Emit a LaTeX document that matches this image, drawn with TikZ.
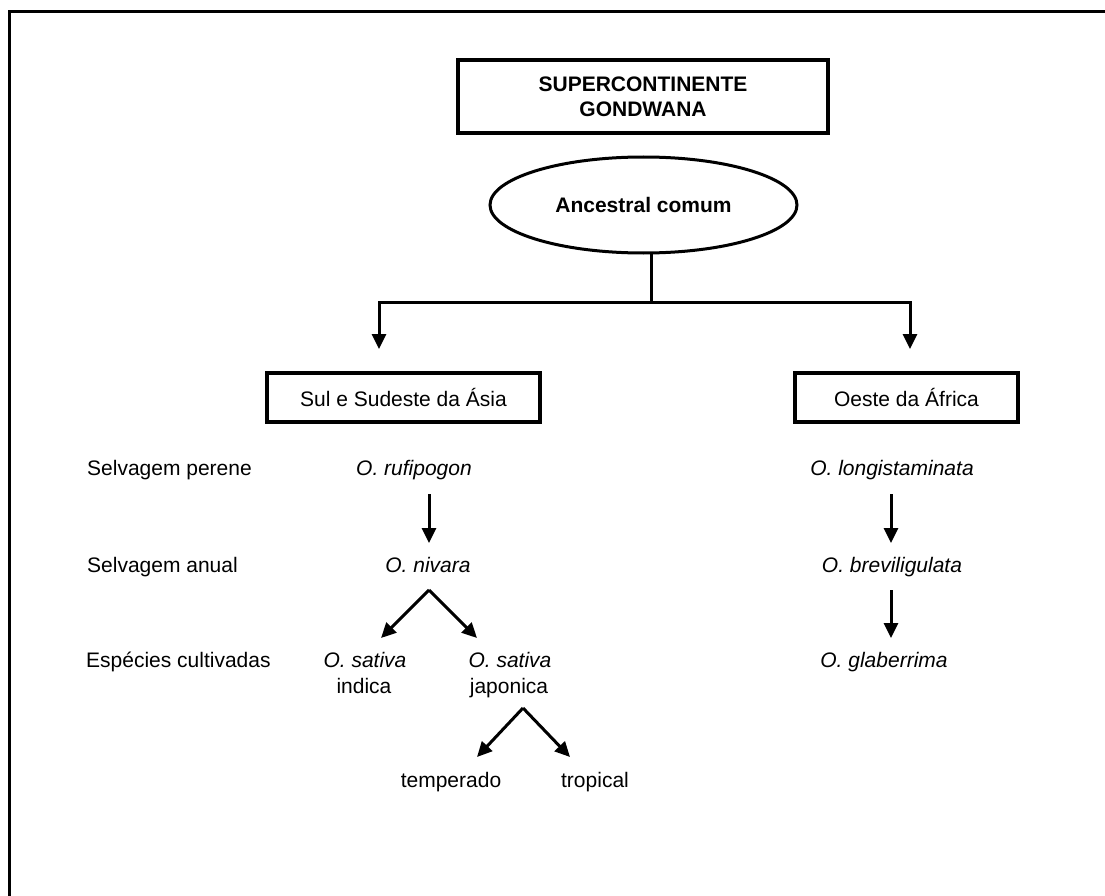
\documentclass[tikz,border=0pt]{standalone}
\usepackage{fontspec}
\setmainfont{Liberation Sans}
\usetikzlibrary{arrows.meta,shapes.geometric}
\begin{document}
\begin{tikzpicture}[x=1pt,y=-1pt,
  txt/.style={font=\fontsize{21}{25}\selectfont, inner sep=0pt},
  itx/.style={font=\fontsize{21}{25}\selectfont\itshape, inner sep=0pt},
  boxed/.style={draw, line width=3.5pt, inner sep=0pt, font=\fontsize{21}{25}\selectfont},
  line/.style={line width=3pt},
  arr/.style={line width=3pt, -{Triangle[length=15pt,width=14pt]}}]
\useasboundingbox (0,0) rectangle (1105,896);
% frame
\coordinate (fb) at (9,896);
\coordinate (fc) at (9,12);
\coordinate (fr) at (1105,12);
\draw[line] (fb) -- (fc) -- (fr);
% title
\node[boxed, align=center, font=\fontsize{21}{25}\selectfont\bfseries, minimum width=370pt, minimum height=73pt] (sg) at (643,96.5) {SUPERCONTINENTE\\GONDWANA};
\node[ellipse, draw, line width=3pt, inner sep=0pt, minimum width=307pt, minimum height=96pt, font=\fontsize{21}{25}\selectfont\bfseries] (anc) at (643.5,205) {Ancestral comum};
% regions
\node[boxed, minimum width=273pt, minimum height=49pt] (asia) at (403.5,397.5) {Sul e Sudeste da Ásia};
\node[boxed, minimum width=223pt, minimum height=49pt] (afr) at (906.5,397.5) {Oeste da África};
% split
\coordinate (v0) at (651,253);
\coordinate (v1) at (651,302);
\coordinate (l0) at (379,302);
\coordinate (l1) at (379,349);
\coordinate (r0) at (910,302);
\coordinate (r1) at (910,349);
\draw[line] (v0) -- (v1);
\draw[arr] (v1) -- (l0) -- (l1);
\draw[arr] (v1) -- (r0) -- (r1);
% left labels
\node[txt, anchor=base west] (perene) at (87,475) {Selvagem perene};
\node[txt, anchor=base west] (anual) at (87,572) {Selvagem anual};
\node[txt, anchor=base west] (cult) at (86,667) {Espécies cultivadas};
% asia column
\node[itx, anchor=base] (rufi) at (414,475) {O. rufipogon};
\node[itx, anchor=base] (niv) at (428,572) {O. nivara};
\node[itx, anchor=base] (sat1) at (365,667) {O. sativa};
\node[txt, anchor=base] (ind) at (364,693) {indica};
\node[itx, anchor=base] (sat2) at (510,667) {O. sativa};
\node[txt, anchor=base] (jap) at (509,693) {japonica};
\node[txt, anchor=base] (temp) at (451,787) {temperado};
\node[txt, anchor=base] (trop) at (595,787) {tropical};
\coordinate (a1) at (429,494);
\coordinate (a2) at (429,543);
\draw[arr] (a1) -- (a2);
\coordinate (n0) at (429,590);
\coordinate (n1) at (381,638);
\coordinate (n2) at (477,638);
\draw[arr] (n0) -- (n1);
\draw[arr] (n0) -- (n2);
\coordinate (j0) at (523,708);
\coordinate (j1) at (477,757);
\coordinate (j2) at (570,757);
\draw[arr] (j0) -- (j1);
\draw[arr] (j0) -- (j2);
% africa column
\node[itx, anchor=base] (longi) at (892,475) {O. longistaminata};
\node[itx, anchor=base] (brev) at (892,572) {O. breviligulata};
\node[itx, anchor=base] (glab) at (884,667) {O. glaberrima};
\coordinate (b1) at (891,494);
\coordinate (b2) at (891,543);
\coordinate (b3) at (891,590);
\coordinate (b4) at (891,638);
\draw[arr] (b1) -- (b2);
\draw[arr] (b3) -- (b4);
\end{tikzpicture}
\end{document}
